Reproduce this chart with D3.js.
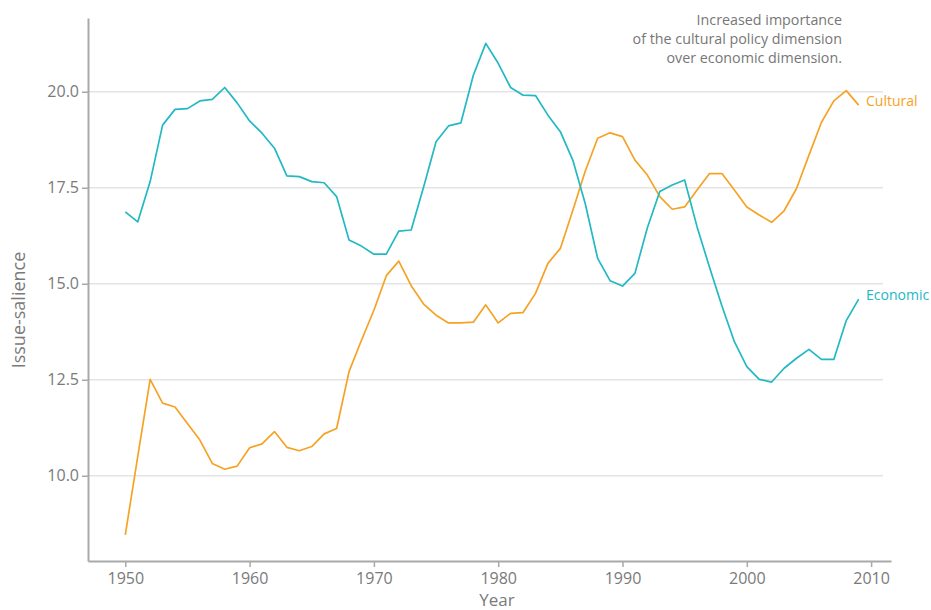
<!DOCTYPE html>
<html>
<head>
<meta charset="utf-8">
<script src="https://cdn.jsdelivr.net/npm/d3@7.9.0/dist/d3.min.js"></script>
<style>
  body { margin: 0; background: #fff; }
  svg text { font-family: "Open Sans", sans-serif; }
</style>
</head>
<body>
<svg id="chart" width="931" height="610"></svg>
<script>
const years = d3.range(1950, 2010);

const cultural = [
  8.46, 10.5, 12.51, 11.89, 11.79, 11.36, 10.93, 10.32, 10.17, 10.25,
  10.73, 10.83, 11.15, 10.74, 10.65, 10.76, 11.09, 11.23, 12.71, 13.53,
  14.31, 15.21, 15.59, 14.95, 14.47, 14.18, 13.98, 13.98, 14.0, 14.45,
  13.98, 14.23, 14.25, 14.75, 15.53, 15.92, 16.91, 17.93, 18.79, 18.93,
  18.83, 18.22, 17.83, 17.27, 16.94, 17.0, 17.44, 17.87, 17.87, 17.44,
  17.0, 16.79, 16.6, 16.9, 17.48, 18.35, 19.2, 19.76, 20.03, 19.65
];

const economic = [
  16.87, 16.61, 17.66, 19.13, 19.54, 19.56, 19.76, 19.8, 20.11, 19.71,
  19.24, 18.92, 18.53, 17.81, 17.79, 17.66, 17.63, 17.27, 16.14, 15.98,
  15.77, 15.77, 16.37, 16.4, 17.52, 18.7, 19.11, 19.19, 20.43, 21.26,
  20.74, 20.11, 19.91, 19.9, 19.39, 18.96, 18.22, 17.09, 15.66, 15.08,
  14.94, 15.27, 16.46, 17.4, 17.57, 17.7, 16.48, 15.43, 14.42, 13.49,
  12.84, 12.51, 12.44, 12.8, 13.06, 13.29, 13.03, 13.03, 14.04, 14.6
];

const xTicks = [1950, 1960, 1970, 1980, 1990, 2000, 2010];
const yTicks = [10, 12.5, 15, 17.5, 20];
const noteLines = [
  'Increased importance',
  'of the cultural policy dimension',
  'over economic dimension.'
];

const series = [
  { name: 'Cultural', values: cultural, color: '#f5a325' },
  { name: 'Economic', values: economic, color: '#22b9c3' }
];

const svg = d3.select('#chart');
const plotLeft = 88, plotRight = 891, plotTop = 18, plotBottom = 561;

const x = d3.scaleLinear().domain([1947, 2011.6]).range([plotLeft, plotRight]);
const y = d3.scaleLinear().domain([7.78, 21.92]).range([plotBottom, plotTop]);

// grid
svg.append('g')
  .selectAll('line')
  .data(yTicks)
  .join('line')
  .attr('x1', plotLeft)
  .attr('x2', 883)
  .attr('y1', d => y(d))
  .attr('y2', d => y(d))
  .attr('stroke', '#e4e4e4')
  .attr('stroke-width', 1.3);

// axes
const xAxis = svg.append('g')
  .attr('transform', `translate(0,${plotBottom})`)
  .call(d3.axisBottom(x).tickValues(xTicks).tickFormat(d3.format('d')).tickSize(6).tickSizeOuter(0));

const yAxis = svg.append('g')
  .attr('transform', `translate(${plotLeft},0)`)
  .call(d3.axisLeft(y).tickValues(yTicks).tickFormat(d3.format('.1f')).tickSize(6).tickSizeOuter(0));

[xAxis, yAxis].forEach(g => {
  g.select('.domain').attr('stroke', '#a9a9a9').attr('stroke-width', 2);
  g.selectAll('.tick line').attr('stroke', '#a9a9a9').attr('stroke-width', 1.5);
  g.selectAll('.tick text')
    .attr('fill', '#7a7a7a')
    .style('font-size', '16px')
    .style('font-family', '"Open Sans", sans-serif');
});
xAxis.selectAll('.tick text').attr('dy', '0.85em');
yAxis.selectAll('.tick text').attr('x', -9);

// axis titles
svg.append('text')
  .attr('x', 497)
  .attr('y', 606)
  .attr('text-anchor', 'middle')
  .attr('fill', '#7a7a7a')
  .style('font-size', '17px')
  .text('Year');

svg.append('text')
  .attr('transform', 'translate(25,310) rotate(-90)')
  .attr('text-anchor', 'middle')
  .attr('fill', '#7a7a7a')
  .style('font-size', '18px')
  .text('Issue-salience');

// lines
const line = d3.line()
  .x((d, i) => x(years[i]))
  .y(d => y(d));

series.forEach(s => {
  svg.append('path')
    .datum(s.values)
    .attr('d', line)
    .attr('fill', 'none')
    .attr('stroke', s.color)
    .attr('stroke-width', 1.7)
    .attr('stroke-linejoin', 'round');

  const last = s.values[s.values.length - 1];
  svg.append('text')
    .attr('x', 866)
    .attr('y', y(last) - 4)
    .attr('dy', '0.35em')
    .attr('fill', s.color)
    .style('font-size', '14px')
    .text(s.name);
});

// annotation
svg.append('g')
  .selectAll('text')
  .data(noteLines)
  .join('text')
  .attr('x', 842)
  .attr('y', (d, i) => 25 + i * 19)
  .attr('text-anchor', 'end')
  .attr('fill', '#777')
  .style('font-size', '14.3px')
  .text(d => d);
</script>
</body>
</html>
